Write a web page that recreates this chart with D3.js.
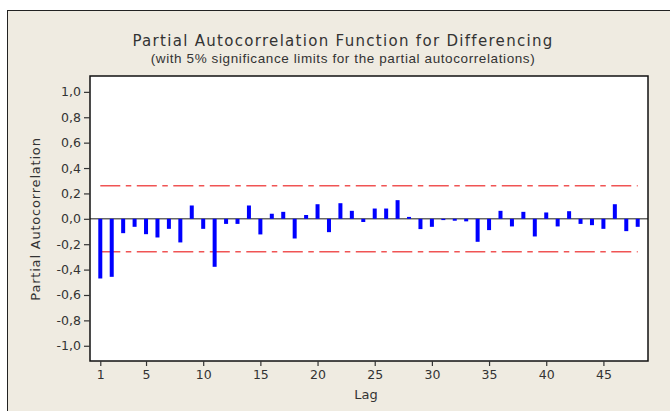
<!DOCTYPE html>
<html>
<head>
<meta charset="utf-8">
<script src="https://cdn.jsdelivr.net/npm/d3@7"></script>
<style>
  body { margin: 0; background: #fff; }
  svg text { fill: #333; }
</style>
</head>
<body>
<svg id="chart"></svg>
<script>
const WIDTH = 670;
const HEIGHT = 411;

// Plot area inside the frame.
const PLOT_LEFT = 90;
const PLOT_RIGHT = 648;
const PLOT_TOP = 76;
const PLOT_BOTTOM = 361;

// Data.
const lags = d3.range(1, 49);
const pacf = [
  -0.47, -0.457, -0.113, -0.063, -0.121, -0.147, -0.079, -0.186, 0.105, -0.079,
  -0.378, -0.04, -0.04, 0.105, -0.123, 0.04, 0.055, -0.155, 0.03, 0.115,
  -0.105, 0.123, 0.063, -0.025, 0.081, 0.081, 0.147, 0.015, -0.081, -0.063,
  -0.01, -0.015, -0.02, -0.181, -0.089, 0.063, -0.06, 0.055, -0.139, 0.05,
  -0.06, 0.06, -0.04, -0.05, -0.079, 0.115, -0.097, -0.063
];
const limit = 0.26; // 5% significance limit
const xTicks = [1, 5, 10, 15, 20, 25, 30, 35, 40, 45];
const yTicks = [1, 0.8, 0.6, 0.4, 0.2, 0, -0.2, -0.4, -0.6, -0.8, -1];

const xScale = d3.scaleLinear().domain([0.1, 48.9]).range([PLOT_LEFT, PLOT_RIGHT]);
const yScale = d3.scaleLinear().domain([-1.12, 1.125]).range([PLOT_BOTTOM, PLOT_TOP]);

const svg = d3.select('#chart').attr('width', WIDTH).attr('height', HEIGHT);

// Beige outer panel with its frame.
svg.append('rect')
  .attr('x', 7.5).attr('y', 10.5)
  .attr('width', WIDTH).attr('height', HEIGHT)
  .attr('fill', '#efebe1')
  .attr('stroke', '#222')
  .attr('stroke-width', 1);

// White plot area.
svg.append('rect')
  .attr('x', PLOT_LEFT).attr('y', PLOT_TOP)
  .attr('width', PLOT_RIGHT - PLOT_LEFT).attr('height', PLOT_BOTTOM - PLOT_TOP)
  .attr('fill', '#fff');

// Titles.
svg.append('text')
  .attr('x', 343).attr('y', 46)
  .attr('text-anchor', 'middle')
  .style('font-family', 'DejaVu Sans')
  .style('font-size', '15px')
  .style('letter-spacing', '1.3px')
  .text('Partial Autocorrelation Function for Differencing');

svg.append('text')
  .attr('x', 343).attr('y', 63)
  .attr('text-anchor', 'middle')
  .style('font-family', 'Liberation Sans')
  .style('font-size', '13.5px')
  .style('letter-spacing', '0.6px')
  .text('(with 5% significance limits for the partial autocorrelations)');

// Significance limits.
for (const v of [limit, -limit]) {
  svg.append('line')
    .attr('x1', xScale(1)).attr('x2', xScale(48))
    .attr('y1', yScale(v)).attr('y2', yScale(v))
    .attr('stroke', '#f05454')
    .attr('stroke-width', 1.6)
    .attr('stroke-dasharray', '20,5.5,5.5,5.5');
}

// Zero line.
svg.append('line')
  .attr('x1', PLOT_LEFT).attr('x2', PLOT_RIGHT)
  .attr('y1', yScale(0)).attr('y2', yScale(0))
  .attr('stroke', '#666')
  .attr('stroke-width', 1.5);

// Bars.
const BAR_WIDTH = 4;
svg.selectAll('.bar')
  .data(lags.map((lag, i) => ({lag, value: pacf[i]})))
  .join('rect')
  .attr('class', 'bar')
  .attr('x', d => xScale(d.lag) - BAR_WIDTH / 2)
  .attr('width', BAR_WIDTH)
  .attr('y', d => Math.min(yScale(d.value), yScale(0)))
  .attr('height', d => Math.abs(yScale(d.value) - yScale(0)))
  .attr('fill', '#0000ff');

// Plot frame.
svg.append('rect')
  .attr('x', PLOT_LEFT).attr('y', PLOT_TOP)
  .attr('width', PLOT_RIGHT - PLOT_LEFT).attr('height', PLOT_BOTTOM - PLOT_TOP)
  .attr('fill', 'none')
  .attr('stroke', '#111')
  .attr('stroke-width', 1.5);

// Axes.
const yAxis = d3.axisLeft(yScale)
  .tickValues(yTicks)
  .tickSize(6)
  .tickPadding(3)
  .tickFormat(n => d3.format('.1f')(n).replace('.', ',').replace('−', '-'));

const yAxisGroup = svg.append('g')
  .attr('transform', `translate(${PLOT_LEFT}, 0)`)
  .call(yAxis);

const xAxis = d3.axisBottom(xScale)
  .tickValues(xTicks)
  .tickSize(5)
  .tickPadding(4);

const xAxisGroup = svg.append('g')
  .attr('transform', `translate(0, ${PLOT_BOTTOM})`)
  .call(xAxis);

for (const g of [xAxisGroup, yAxisGroup]) {
  g.select('.domain').remove();
  g.selectAll('.tick line').attr('stroke', '#333').attr('stroke-width', 1.2);
  g.selectAll('.tick text')
    .style('font-family', 'DejaVu Sans')
    .style('font-size', '12.5px')
    .attr('fill', '#333');
}

// Axis titles.
svg.append('text')
  .attr('x', 366).attr('y', 399)
  .attr('text-anchor', 'middle')
  .style('font-family', 'DejaVu Sans')
  .style('font-size', '13px')
  .text('Lag');

svg.append('text')
  .attr('transform', 'translate(40, 219) rotate(-90)')
  .attr('text-anchor', 'middle')
  .style('font-family', 'DejaVu Sans')
  .style('font-size', '13px')
  .style('letter-spacing', '0.8px')
  .text('Partial Autocorrelation');
</script>
</body>
</html>
